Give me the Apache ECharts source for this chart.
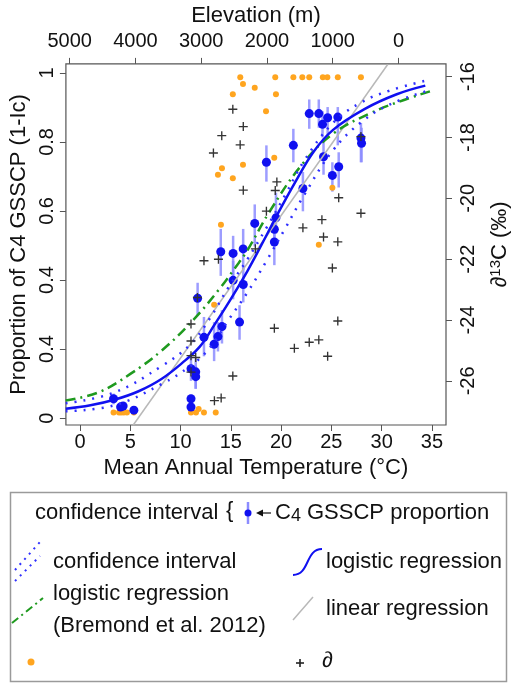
<!DOCTYPE html>
<html>
<head>
<meta charset="utf-8">
<script src="https://cdn.jsdelivr.net/npm/echarts@6/dist/echarts.min.js"></script>
<style>
  html, body { margin: 0; padding: 0; background: #fff; }
  #main { width: 519px; height: 684px; }
</style>
</head>
<body>
<div id="main"></div>
<script>
// axis ticks
const tempTicks = [0, 5, 10, 15, 20, 25, 30, 35];
const elevTicks = [5000, 4000, 3000, 2000, 1000, 0];
const propTicks = [0, 0.2, 0.4, 0.6, 0.8, 1];
const propTickLabels = ["0", "0.4", "0.4", "0.6", "0.8", "1"];
const d13Ticks = [-26, -24, -22, -20, -18, -16];

// C4 GSSCP proportion with confidence interval
const c4Temp = [3.34, 4.04, 4.29, 5.36, 11.04, 11.04, 11.04, 11.51, 11.51, 11.7, 12.33, 13.34, 13.72, 14.12, 15.87,
  14.0, 15.23, 16.23, 15.23, 16.24, 17.38, 18.54, 19.33, 19.33, 19.49, 21.22, 22.17, 22.8, 23.75, 24.12,
  24.63, 25.64, 24.22, 25.1, 25.73, 27.94, 28.0];
const c4Prop = [0.056, 0.032, 0.035, 0.023, 0.032, 0.056, 0.143, 0.134, 0.12, 0.347, 0.234, 0.214, 0.236, 0.265, 0.278,
  0.482, 0.477, 0.49, 0.399, 0.387, 0.564, 0.741, 0.51, 0.547, 0.58, 0.79, 0.665, 0.882, 0.882, 0.851,
  0.87, 0.872, 0.757, 0.703, 0.728, 0.811, 0.796];
const c4Lo = [0.04, 0.025, 0.028, 0.018, 0.025, 0.045, 0.108, 0.085, 0.085, 0.298, 0.179, 0.165, 0.193, 0.216, 0.227,
  0.412, 0.406, 0.429, 0.344, 0.335, 0.497, 0.685, 0.443, 0.506, 0.534, 0.741, 0.599, 0.838, 0.841, 0.813,
  0.815, 0.79, 0.705, 0.656, 0.668, 0.741, 0.741];
const c4Hi = [0.071, 0.04, 0.045, 0.03, 0.04, 0.068, 0.185, 0.173, 0.151, 0.392, 0.293, 0.278, 0.278, 0.313, 0.327,
  0.548, 0.528, 0.548, 0.455, 0.44, 0.619, 0.79, 0.562, 0.591, 0.653, 0.838, 0.713, 0.923, 0.923, 0.889,
  0.901, 0.901, 0.81, 0.741, 0.77, 0.855, 0.841];

// orange dots
const orangeTemp = [15.94, 19.42, 21.22, 22.11, 22.8, 24.15, 24.6, 25.64, 27.94,
  16.21, 17.38, 15.2, 19.49, 18.5, 19.32, 14.12, 16.21, 13.72, 15.2, 14.02, 25.1, 23.75, 13.34,
  3.34, 3.88, 4.1, 4.35, 4.67, 5.36, 11.04, 11.54, 12.33, 13.5, 11.8];
const orangeProp = [0.987, 0.987, 0.987, 0.987, 0.987, 0.987, 0.987, 0.987, 0.987,
  0.968, 0.957, 0.938, 0.938, 0.889, 0.754, 0.724, 0.734, 0.705, 0.695, 0.56, 0.667, 0.502, 0.328,
  0.016, 0.016, 0.016, 0.016, 0.016, 0.016, 0.016, 0.016, 0.016, 0.016, 0.026];

// delta 13C (right axis)
const d13Temp = [15.2, 16.24, 14.1, 15.93, 13.27, 16.24, 19.58, 19.42, 18.54, 17.44, 12.33, 13.77, 11.68, 11.04,
  11.04, 11.04, 11.51, 11.04, 15.2, 13.37, 14.04, 19.33, 21.32, 22.8, 23.75, 24.63, 25.1, 25.64, 25.73,
  27.94, 27.94, 24.06, 22.17, 24.22, 25.64];
const d13Val = [-17.07, -17.64, -17.94, -18.24, -18.51, -19.73, -19.46, -19.74, -20.42, -21.66, -22.05, -22.0, -23.26, -24.13,
  -24.69, -25.17, -25.23, -25.71, -25.84, -26.65, -26.56, -24.27, -24.93, -24.73, -24.65, -25.19, -22.29, -24.03, -19.98,
  -17.97, -20.49, -20.7, -20.97, -21.27, -21.43];

// fitted curves
const logitTemp = [-1.42, 1.04, 3.41, 5.77, 8.14, 10.5, 11.92, 13.43, 15.04, 16.65, 18.07, 19.49, 21.38, 23.27, 25.17, 28.29, 31.5, 34.34];
const logitProp = [0.027, 0.037, 0.053, 0.077, 0.114, 0.168, 0.207, 0.273, 0.347, 0.426, 0.503, 0.582, 0.682, 0.773, 0.835, 0.895, 0.938, 0.963];
const ciTemp = [-1.42, 3.41, 8.14, 10.97, 12.87, 14.76, 16.65, 18.54, 20.44, 22.33, 25.17, 28.0, 30.84, 34.34];
const ciUpProp = [0.043, 0.074, 0.151, 0.213, 0.287, 0.378, 0.46, 0.551, 0.648, 0.747, 0.855, 0.915, 0.949, 0.977];
const ciLoProp = [0.02, 0.037, 0.099, 0.151, 0.202, 0.284, 0.364, 0.455, 0.551, 0.648, 0.776, 0.858, 0.909, 0.946];
const bremTemp = [-1.42, 1.8, 5.01, 8.14, 11.26, 13.81, 15.42, 16.65, 18.83, 22.04, 25.17, 28.95, 32.07, 35.1];
const bremProp = [0.051, 0.074, 0.128, 0.196, 0.284, 0.372, 0.435, 0.486, 0.597, 0.733, 0.824, 0.884, 0.92, 0.949];
const linTemp = [5.3, 30.6];
const linD13 = [-27.45, -15.6];

const zip = (a, b) => a.map((v, i) => [v, b[i]]);

const FONT = "'Liberation Sans', Arial, sans-serif";
const BOX = "#555";
const BLUE = "#1010f0";

const chart = echarts.init(document.getElementById("main"), null, { renderer: "canvas" });

const tick = { show: true, inside: false, length: 6, lineStyle: { color: BOX, width: 1 } };
const label = { color: "#111", fontSize: 20, fontFamily: FONT, formatter: (v) => String(v) };
const noLine = { show: false, onZero: false };
const titleStyle = { color: "#111", fontSize: 22, fontFamily: FONT };

const legendText = (x, y, text, extra) => ({
  type: "text",
  x, y,
  style: Object.assign({ text, fill: "#111", font: "22px " + FONT, verticalAlign: "middle" }, extra || {}),
});

const options = {
  backgroundColor: "#fff",
  animation: false,
  grid: {
    left: 59, top: 58, width: 400, height: 367,
    show: true, borderColor: BOX, borderWidth: 1.2, backgroundColor: "#fff",
  },
  xAxis: [
    {
      type: "value", position: "bottom", min: -1.4, max: 36.4,
      name: "Mean Annual Temperature (°C)", nameLocation: "middle", nameGap: 28,
      nameTextStyle: titleStyle,
      axisLine: noLine, splitLine: { show: false },
      axisTick: Object.assign({ customValues: tempTicks }, tick),
      axisLabel: Object.assign({}, label, { customValues: tempTicks, margin: 7 }),
    },
    {
      type: "value", position: "top", inverse: true, min: -723, max: 5058,
      name: "Elevation (m)", nameLocation: "middle", nameGap: 36,
      nameTextStyle: titleStyle,
      axisLine: noLine, splitLine: { show: false },
      axisTick: Object.assign({ customValues: elevTicks }, tick),
      axisLabel: Object.assign({}, label, { customValues: elevTicks, margin: 12 }),
    },
  ],
  yAxis: [
    {
      type: "value", position: "left", min: -0.02, max: 1.026,
      name: "Proportion of C4 GSSCP (1-Ic)", nameLocation: "middle", nameGap: 34, nameRotate: 90,
      nameTextStyle: titleStyle,
      axisLine: noLine, splitLine: { show: false },
      axisTick: Object.assign({ customValues: propTicks }, tick),
      axisLabel: Object.assign({}, label, {
        customValues: propTicks, margin: 8, rotate: 90,
        formatter: (v) => propTickLabels[Math.round(v * 5)],
      }),
    },
    {
      type: "value", position: "right", min: -27.45, max: -15.58,
      name: "{a|∂}{s|13}{a|C (‰)}", nameLocation: "middle", nameGap: 42, nameRotate: 90,
      nameTextStyle: {
        rich: {
          a: { color: "#111", fontSize: 22, fontFamily: FONT },
          s: { color: "#111", fontSize: 15, fontFamily: FONT, verticalAlign: "top", padding: [0, 0, 9, 0] },
        },
      },
      axisLine: noLine, splitLine: { show: false },
      axisTick: Object.assign({ customValues: d13Ticks }, tick),
      axisLabel: Object.assign({}, label, { customValues: d13Ticks, margin: 12, rotate: 90 }),
    },
  ],
  series: [
    {
      type: "custom", name: "interval", xAxisIndex: 0, yAxisIndex: 0, z: 2,
      data: c4Temp.map((t, i) => [t, c4Lo[i], c4Hi[i]]),
      encode: { x: 0, y: [1, 2] },
      renderItem(params, api) {
        const lo = api.coord([api.value(0), api.value(1)]);
        const hi = api.coord([api.value(0), api.value(2)]);
        return {
          type: "line",
          shape: { x1: lo[0], y1: lo[1], x2: hi[0], y2: hi[1] },
          style: { stroke: "#8c8cff", lineWidth: 2.5, opacity: 0.85 },
        };
      },
    },
    {
      type: "scatter", name: "orange", xAxisIndex: 0, yAxisIndex: 0, z: 3,
      data: zip(orangeTemp, orangeProp), symbolSize: 6,
      itemStyle: { color: "#ffa51f", opacity: 1 },
    },
    {
      type: "scatter", name: "C4 GSSCP proportion", xAxisIndex: 0, yAxisIndex: 0, z: 4,
      data: zip(c4Temp, c4Prop), symbolSize: 9,
      itemStyle: { color: BLUE, opacity: 1 },
    },
    {
      type: "line", name: "linear regression", xAxisIndex: 0, yAxisIndex: 1, z: 5,
      data: zip(linTemp, linD13), showSymbol: false,
      lineStyle: { color: "#b8b8b8", width: 1.5 },
    },
    {
      type: "line", name: "Bremond", xAxisIndex: 0, yAxisIndex: 0, z: 5,
      data: zip(bremTemp, bremProp), showSymbol: false, smooth: 0.4,
      lineStyle: { color: "#1f9a1f", width: 2.5, type: [10, 5, 2, 5] },
    },
    {
      type: "line", name: "ci upper", xAxisIndex: 0, yAxisIndex: 0, z: 5,
      data: zip(ciTemp, ciUpProp), showSymbol: false, smooth: 0.4,
      lineStyle: { color: "#3030ff", width: 2.5, type: [2, 7] },
    },
    {
      type: "line", name: "ci lower", xAxisIndex: 0, yAxisIndex: 0, z: 5,
      data: zip(ciTemp, ciLoProp), showSymbol: false, smooth: 0.4,
      lineStyle: { color: "#3030ff", width: 2.5, type: [2, 7] },
    },
    {
      type: "line", name: "logistic regression", xAxisIndex: 0, yAxisIndex: 0, z: 6,
      data: zip(logitTemp, logitProp), showSymbol: false, smooth: 0.4,
      lineStyle: { color: BLUE, width: 2.5 },
    },
    {
      type: "scatter", name: "d13C", xAxisIndex: 0, yAxisIndex: 1, z: 7,
      data: zip(d13Temp, d13Val), symbolSize: 9,
      symbol: "path://M4.25,0h1.5v4.25h4.25v1.5h-4.25v4.25h-1.5v-4.25h-4.25v-1.5h4.25z",
      itemStyle: { color: "#333", opacity: 1 },
    },
  ],
  graphic: [
    { type: "rect", shape: { x: 10.5, y: 492.5, width: 496, height: 189 },
      style: { fill: "#fff", stroke: "#9a9a9a", lineWidth: 1.5 } },
    legendText(35, 513, "confidence interval"),
    legendText(226, 511, "{"),
    { type: "line", shape: { x1: 248, y1: 502, x2: 248, y2: 524 }, style: { stroke: "#8c8cff", lineWidth: 2.5 } },
    { type: "circle", shape: { cx: 248, cy: 513, r: 3.5 }, style: { fill: BLUE } },
    { type: "line", shape: { x1: 261, y1: 513, x2: 271, y2: 513 }, style: { stroke: "#111", lineWidth: 1.2 } },
    { type: "polygon", shape: { points: [[256, 513], [263, 509.5], [263, 516.5]] }, style: { fill: "#111" } },
    legendText(275, 513, "{n|C}{s|4}{n| GSSCP proportion}", {
      rich: {
        n: { fill: "#111", font: "22px " + FONT },
        s: { fill: "#111", font: "18px " + FONT, padding: [7, 0, 0, 0] },
      },
    }),
    { type: "line", shape: { x1: 15, y1: 570, x2: 40, y2: 542 }, style: { stroke: "#3030ff", lineWidth: 2, lineDash: [2, 5] } },
    { type: "line", shape: { x1: 15, y1: 581, x2: 40, y2: 556 }, style: { stroke: "#3030ff", lineWidth: 2, lineDash: [2, 5] } },
    legendText(53, 562, "confidence interval"),
    { type: "bezierCurve",
      shape: { x1: 293, y1: 575, x2: 322, y2: 549, cpx1: 310, cpy1: 575, cpx2: 305, cpy2: 549 },
      style: { stroke: BLUE, lineWidth: 2, fill: null } },
    legendText(326, 562, "logistic regression"),
    { type: "line", shape: { x1: 12, y1: 623, x2: 43, y2: 598 }, style: { stroke: "#1f9a1f", lineWidth: 2, lineDash: [8, 4, 2, 4] } },
    legendText(53, 594, "logistic regression"),
    legendText(53, 626, "(Bremond et al. 2012)"),
    { type: "line", shape: { x1: 293, y1: 620, x2: 313, y2: 597 }, style: { stroke: "#b8b8b8", lineWidth: 1.5 } },
    legendText(326, 609, "linear regression"),
    { type: "circle", shape: { cx: 31, cy: 662, r: 3.5 }, style: { fill: "#ffa51f" } },
    { type: "line", shape: { x1: 296, y1: 663, x2: 304, y2: 663 }, style: { stroke: "#222", lineWidth: 1.6 } },
    { type: "line", shape: { x1: 300, y1: 659, x2: 300, y2: 667 }, style: { stroke: "#222", lineWidth: 1.6 } },
    legendText(322, 661, "∂", { font: "italic 22px " + FONT }),
  ],
};

chart.setOption(options);
</script>
</body>
</html>
